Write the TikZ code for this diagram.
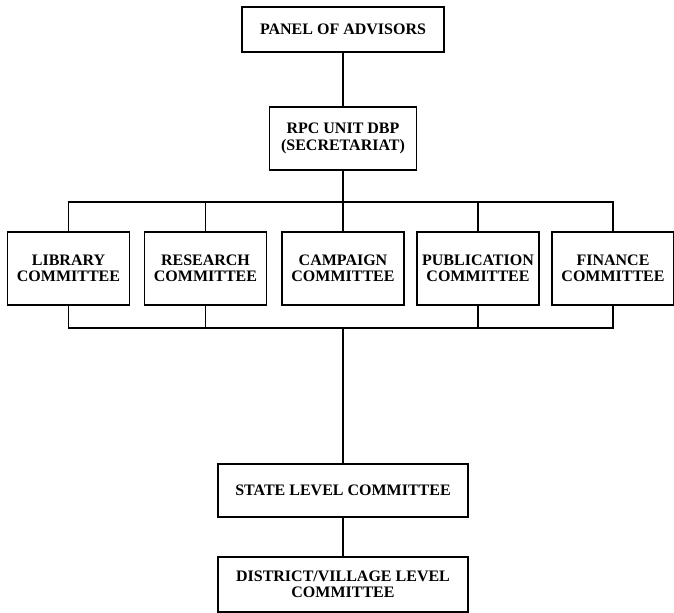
\documentclass[tikz,border=0pt]{standalone}
\usepackage{fontspec}
\setmainfont{Liberation Serif}
\begin{document}
\begin{tikzpicture}[x=0.75pt, y=-0.75pt,
    box/.style = {draw, line width=1.3pt, align=center, inner sep=2pt,
      font=\bfseries\fontsize{12}{12.3}\selectfont},
    cbox/.style = {box, minimum width=91.5pt, minimum height=54.75pt},
    wbox/.style = {box, minimum width=187.5pt, minimum height=39.75pt},
    link/.style = {line width=0.8pt}]
        \useasboundingbox (0,0) rectangle (674,613);
        \node[box, minimum width=151.5pt, minimum height=33.75pt] (panel) at (343,29.5) {PANEL OF ADVISORS};
        \node[box, minimum width=110.25pt, minimum height=47.25pt] (rpc) at (343,138.5) {RPC UNIT DBP\\(SECRETARIAT)};
        %
        \node[cbox] (lib) at (68.5,268.5) {LIBRARY\\COMMITTEE};
        \node[cbox] (res) at (205.5,268.5) {RESEARCH\\COMMITTEE};
        \node[cbox] (camp) at (343,268.5) {CAMPAIGN\\COMMITTEE};
        \node[cbox] (pub) at (478,268.5) {PUBLICATION\\COMMITTEE};
        \node[cbox] (fin) at (613,268.5) {FINANCE\\COMMITTEE};
        %
        \node[wbox] (state) at (343,490.5) {STATE LEVEL COMMITTEE};
        \node[wbox, minimum height=41pt] (dist) at (343,584.5) {DISTRICT/VILLAGE LEVEL\\COMMITTEE};
        %
        \coordinate (topbus) at (343,202);
        \coordinate (botbus) at (343,328);
        %
        \draw[link] (panel) -- (rpc);
        \draw[link] (rpc) -- (camp);
        \draw[link] (lib.north) |- (topbus) -| (fin.north);
        \draw[link] (res.north) -- (res.north |- topbus);
        \draw[link] (pub.north) -- (pub.north |- topbus);
        \draw[link] (lib.south) |- (botbus) -| (fin.south);
        \draw[link] (res.south) -- (res.south |- botbus);
        \draw[link] (pub.south) -- (pub.south |- botbus);
        \draw[link] (botbus) -- (state);
        \draw[link] (state) -- (dist);
      \end{tikzpicture}
\end{document}
